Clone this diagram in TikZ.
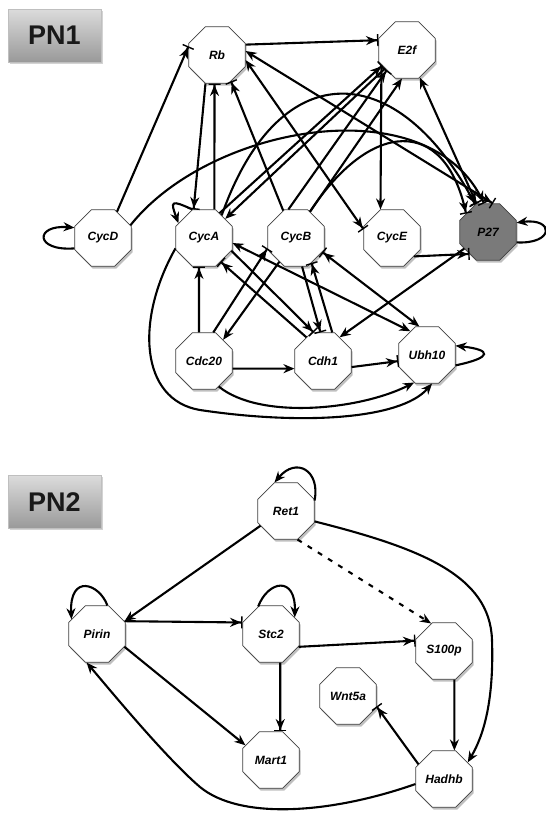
\documentclass[tikz,border=0pt]{standalone}
\usepackage{fontspec}
\setsansfont{Liberation Sans}
\usetikzlibrary{arrows.meta, shapes.geometric, shadows}

\begin{document}
\begin{tikzpicture}[x=1pt, y=1pt,
    gene/.style={regular polygon, regular polygon sides=8, minimum size=61pt, inner sep=0pt,
      draw=black!75, line width=0.7pt, fill=white,
      font=\sffamily\bfseries\itshape\fontsize{12}{12}\selectfont,
      drop shadow={opacity=0.5, shadow xshift=1.5pt, shadow yshift=-2.5pt}},
    panel/.style={minimum width=93pt, minimum height=53pt, inner sep=0pt,
      top color=black!14, bottom color=black!40, draw=black!25, line width=0.4pt,
      font=\sffamily\bfseries\fontsize{27}{27}\selectfont, text=black!90,
      drop shadow={opacity=0.35, shadow xshift=1.5pt, shadow yshift=-1.5pt}},
    wire/.style={line width=2.1pt, draw=black},
    act/.style={wire, -{Stealth[length=11pt,width=9pt]}},
    inh/.style={wire, -{Stealth[length=11pt,width=9pt]Bar[width=12pt,line width=1.4pt]}},
    actboth/.style={wire, {Stealth[length=11pt,width=9pt]}-{Stealth[length=11pt,width=9pt]}},
    inhboth/.style={wire, {Stealth[length=11pt,width=9pt]}-{Stealth[length=11pt,width=9pt]Bar[width=12pt,line width=1.4pt]}}]
  \useasboundingbox (0,0) rectangle (546,-814);

  % Panel labels
  \node[panel] (pn1) at (54.5,-35.5) {PN1};
  \node[panel] (pn2) at (54.5,-502) {PN2};

  % PN1 genes
  \foreach \n/\x/\y in {Rb/217/55, E2f/407/50, CycD/103/238, CycA/204/238, CycB/296/238,
      CycE/392/238, Cdc20/204/361, Cdh1/323/361, Ubh10/427/355} {
    \node[gene] (\n) at (\x,-\y) {\n};
  }
  \node[gene, fill=black!52] (P27) at (488,-232) {P27};

  % PN1 straight links
  \foreach \a/\b in {CycD.62/Rb.163, Rb.20/E2f.161, Rb.-112/CycA.110, CycA.70/Rb.-95,
      CycB.115/Rb.-62, CycA.58/E2f.-148, CycB.105/E2f.-135, CycE.-40/P27.-130,
      Cdc20.100/CycA.-100, Cdc20.72/CycB.-160, Cdh1.125/CycA.-55, CycA.-25/Cdh1.108,
      CycB.-78/Cdh1.95, Cdh1.72/CycB.-58, Cdh1.-12/Ubh10.-168} {
    \draw[inh] (\a) -- (\b);
  }
  \foreach \a/\b in {E2f.-150/CycE.112, E2f.-140/CycA.42, CycB.62/E2f.-100,
      P27.-145/Cdh1.55, CycB.-125/Cdc20.48, Cdc20.-15/Cdh1.-165} {
    \draw[act] (\a) -- (\b);
  }
  \draw[inhboth] (Rb.-10) -- (CycE.163);
  \draw[inhboth] (Rb.8) -- (P27.80);
  \draw[inhboth] (E2f.-65) -- (P27.112);
  \draw[actboth] (CycA.-10) -- (Ubh10.125);
  \draw[inhboth] (Ubh10.105) -- (CycB.-28);

  % PN1 arches
  \draw[inh] (CycD.25) .. controls (210,-125) and (430,-85) .. (P27.98);
  \draw[inh] (CycA.52) .. controls (280,-50) and (400,-60) .. (P27.115);
  \draw[inh] (CycB.62) .. controls (370,-120) and (445,-115) .. (P27.140);
  \draw[act] (Cdc20.-60) .. controls (260,-420) and (360,-410) .. (Ubh10.-115);
  \draw[act] (CycA.-160) .. controls (135,-320) and (140,-400) .. (200,-410)
    .. controls (300,-425) and (400,-420) .. (Ubh10.-80);

  % PN1 self loops
  \draw[act] (CycD.-160) .. controls +(-40,-3) and +(-40,3) .. (CycD.160);
  \draw[act] (CycA.112) .. controls +(-22,10) and +(-8,22) .. (CycA.150);
  \draw[act] (P27.-20) .. controls +(38,-2) and +(38,5) .. (P27.18);
  \draw[act] (Ubh10.-20) .. controls +(38,8) and +(36,-4) .. (Ubh10.18);

  % PN2 genes
  \foreach \n/\x/\y in {Ret1/286/511, Pirin/97/634, Stc2/271/634, S100p/444/651,
      Wnt5a/348/696, Mart1/271/760, Hadhb/444/779} {
    \node[gene] (\n) at (\x,-\y) {\n};
  }

  % PN2 links
  \draw[act] (Ret1.-150) -- (Pirin.25);
  \draw[act, dash pattern=on 5pt off 7pt] (Ret1.-68) -- (S100p.115);
  \draw[act] (Ret1.-20) .. controls (420,-548) and (490,-575) .. (492,-640)
    .. controls (494,-700) and (484,-735) .. (Hadhb.35);
  \draw[inh] (Pirin.25) -- (Stc2.158);
  \draw[act] (Pirin.-25) -- (Mart1.150);
  \draw[inh] (Stc2.-25) -- (S100p.160);
  \draw[inh] (Stc2.-72) -- (Mart1.72);
  \draw[act] (S100p.-70) -- (Hadhb.70);
  \draw[inh] (Hadhb.150) -- (Wnt5a.-20);
  \draw[act] (Hadhb.190) .. controls (330,-814) and (240,-820) .. (200,-787)
    .. controls (165,-757) and (110,-690) .. (Pirin.-110);

  % PN2 self loops
  \draw[act] (Ret1.20) .. controls +(6,30) and +(22,26) .. (Ret1.112);
  \draw[act] (Pirin.70) .. controls +(-8,22) and +(-2,46) .. (Pirin.150);
  \draw[act] (Stc2.115) .. controls +(10,26) and +(1,42) .. (Stc2.35);
\end{tikzpicture}
\end{document}
